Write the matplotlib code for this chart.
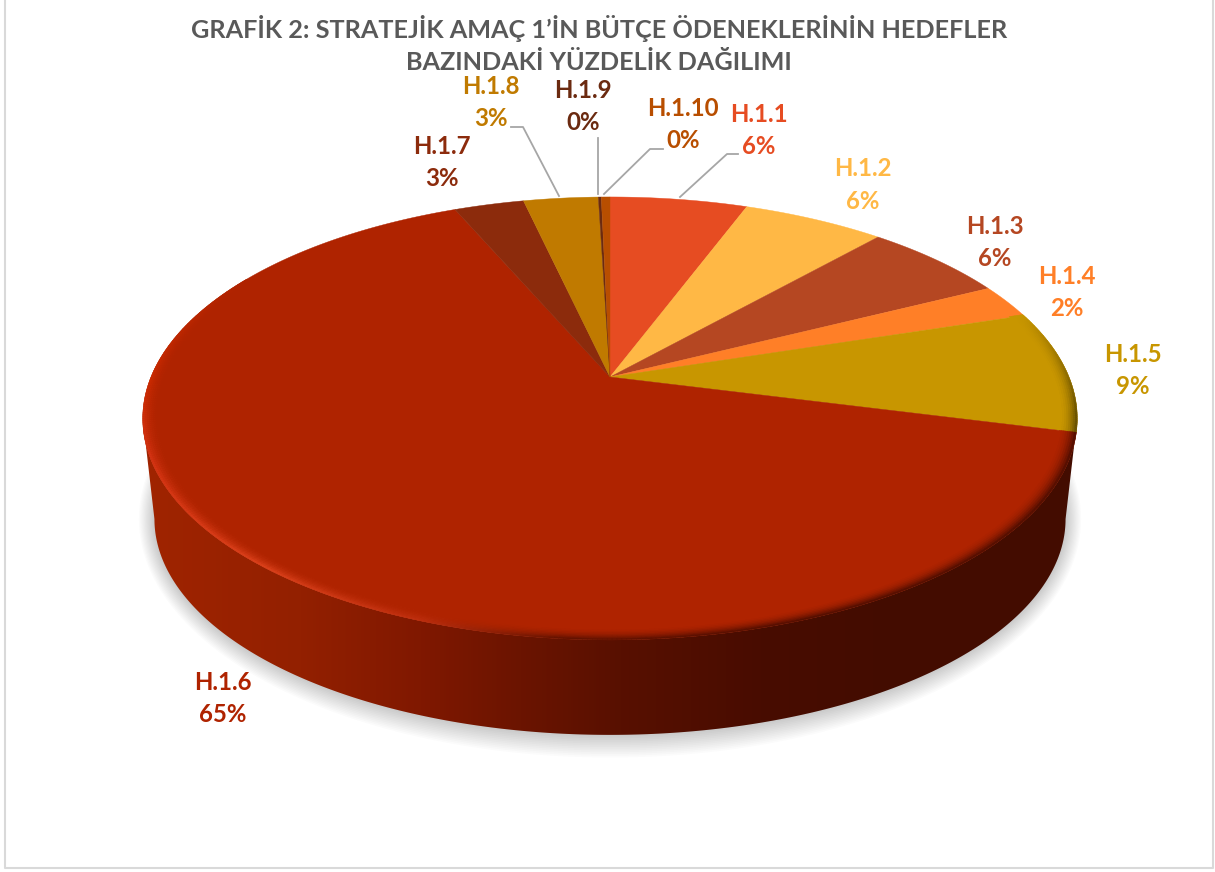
import numpy as np
import matplotlib
matplotlib.use("Agg")
import matplotlib.pyplot as plt
from matplotlib.collections import PolyCollection
from matplotlib.colors import to_rgb
from matplotlib.patches import Polygon

plt.rcParams['font.family'] = ['Lato', 'DejaVu Sans']

# chart data
names = ["H.1.1", "H.1.2", "H.1.3", "H.1.4", "H.1.5", "H.1.6", "H.1.7", "H.1.8", "H.1.9", "H.1.10"]
values = [5.7, 5.9, 6.0, 2.5, 8.9, 64.6, 2.9, 3.1, 0.12, 0.36]
percent_labels = ["6%", "6%", "6%", "2%", "9%", "65%", "3%", "3%", "0%", "0%"]
title_lines = ["GRAFİK 2: STRATEJİK AMAÇ 1’İN BÜTÇE ÖDENEKLERİNİN HEDEFLER",
               "BAZINDAKİ YÜZDELİK DAĞILIMI"]

colors = ["#E64C22", "#FFB845", "#B54722", "#FF7F27", "#C89600",
          "#AF2300", "#8C2B0C", "#C07A00", "#6B2A10", "#B84E00"]
label_pos = [(759, 114), (863, 169), (995, 226), (1067, 276), (1133, 354),
             (223, 682), (442, 146), (491, 87), (583, 90), (683, 109)]
leaders = [[(738, 154), (727, 154), (680, 197)],
           [(511, 127), (523, 127), (559, 196)],
           [(598, 138), (598, 194)],
           [(663, 149), (650, 149), (604, 194)]]

# perspective of the pie disc, in pixels
CX, CY = 610.0, 377.0
RX, RY, K = 459.0, 213.7, 0.187
SIDE_SCALE, SIDE_DROP = 0.975, 101.6


def project(r, ang, scale=1.0, drop=0.0):
    # ang is clockwise from 12 o'clock, radians
    u = r * np.sin(ang)
    v = r * np.cos(ang)
    d = 1 + K * v
    return CX + scale * RX * u / d, CY - scale * RY * v / d + drop


def rgb(c):
    return np.array(to_rgb(c))


fig = plt.figure(figsize=(12.15, 8.72), dpi=100)
ax = fig.add_axes([0, 0, 1, 1])

# shadow under the disc
ang = np.linspace(0, 2 * np.pi, 361)
for grow in np.linspace(24, 0, 14):
    x, y = project(1.0, ang, SIDE_SCALE, SIDE_DROP)
    x = CX + (x - CX) * (1 + grow * 0.65 / 456)
    y = y + grow * 0.95 * (y - 520) / 216
    ax.fill(x, y, color="black", alpha=0.014, lw=0, zorder=1)

# side of the disc, gradient clipped to its outline
side_x = [143, 300, 420, 520, 620, 760, 900, 1078]
side_c = ["#A02400", "#932000", "#801800", "#6B1400", "#581000", "#480C00", "#430C00", "#430C00"]
xs = np.arange(143, 1079)
grad = np.zeros((1, len(xs), 3))
for ch in range(3):
    grad[0, :, ch] = np.interp(xs, side_x, [rgb(c)[ch] for c in side_c])
img = ax.imshow(grad, extent=(143, 1079, 760, 400), aspect="auto", zorder=2)
# from the right extreme of the ellipse round the front to the left one
front = np.radians(np.linspace(100.8, 259.2, 300))
tx, ty = project(1.0, front)
bx, by = project(1.0, front, SIDE_SCALE, SIDE_DROP)
outline = np.vstack([np.c_[tx, ty], np.c_[bx[::-1], by[::-1]]])
clip = Polygon(outline, closed=True, transform=ax.transData, fc="none", ec="none")
ax.add_patch(clip)
img.set_clip_path(clip)

# top face wedges
fracs = np.array(values) / sum(values)
edges = np.concatenate([[0], np.cumsum(fracs)]) * 2 * np.pi
for i in range(len(values)):
    a = np.linspace(edges[i], edges[i + 1], max(3, int(fracs[i] * 720)))
    x, y = project(1.0, a)
    ax.fill(np.r_[CX, x], np.r_[CY, y], color=colors[i], lw=0.3, zorder=3)

# bevel along the front rim
rim_a = [104, 160, 185, 200, 220, 250, 270, 290, 300]
rim_c = ["#4A0C00", "#4A0C00", "#5A1000", "#C03010", "#E0441E", "#D83414", "#CC2A00", "#B82600", "#AF2300"]
rim_rgb = np.array([rgb(c) for c in rim_c])
r_steps = np.linspace(0.965, 1.0, 9)
a_steps = np.linspace(72, 300, 460)
split = np.degrees(edges[5])
quads = []
quad_colors = []
for ia in range(len(a_steps) - 1):
    a0, a1 = a_steps[ia], a_steps[ia + 1]
    mid = (a0 + a1) / 2
    for ir in range(len(r_steps) - 1):
        r0, r1 = r_steps[ir], r_steps[ir + 1]
        w = ((ir + 0.5) / (len(r_steps) - 1)) ** 2
        if mid < split:
            base = rgb(colors[4])
            target = base + (rgb("#5C4800") - base) * min(1, (mid - 72) / 28)
        else:
            base = rgb(colors[5])
            target = np.array([np.interp(mid, rim_a, rim_rgb[:, ch]) for ch in range(3)])
        x0, y0 = project(r0, np.radians(a0))
        x1, y1 = project(r1, np.radians(a0))
        x2, y2 = project(r1, np.radians(a1))
        x3, y3 = project(r0, np.radians(a1))
        quads.append([(x0, y0), (x1, y1), (x2, y2), (x3, y3)])
        quad_colors.append(base + (target - base) * w)
ax.add_collection(PolyCollection(quads, facecolors=quad_colors, edgecolors=quad_colors,
                                 linewidths=0.3, zorder=4))

# leader lines
for pts in leaders:
    ax.plot([p[0] for p in pts], [p[1] for p in pts], color="#A6A6A6", lw=1.3, zorder=5)

# labels
for i in range(len(names)):
    px, py = label_pos[i]
    ax.text(px, py, names[i], color=colors[i], fontsize=17.3, fontweight="bold",
            ha="center", va="center", zorder=6)
    ax.text(px, py + 32, percent_labels[i], color=colors[i], fontsize=17.3, fontweight="bold",
            ha="center", va="center", zorder=6)

ax.text(599, 29, title_lines[0], color="#595959", fontsize=18.15, fontweight="bold",
        ha="center", va="center", zorder=6)
ax.text(599, 63, title_lines[1], color="#595959", fontsize=18.15, fontweight="bold",
        ha="center", va="center", zorder=6)

# chart frame, top edge is cropped off in the reference
ax.plot([5, 5, 1213, 1213], [0, 868, 868, 0], color="#D9D9D9", lw=1.5, zorder=1)

ax.set_xlim(0, 1215)
ax.set_ylim(872, 0)
ax.axis("off")
fig.savefig("out.png", dpi=100, facecolor="white")
